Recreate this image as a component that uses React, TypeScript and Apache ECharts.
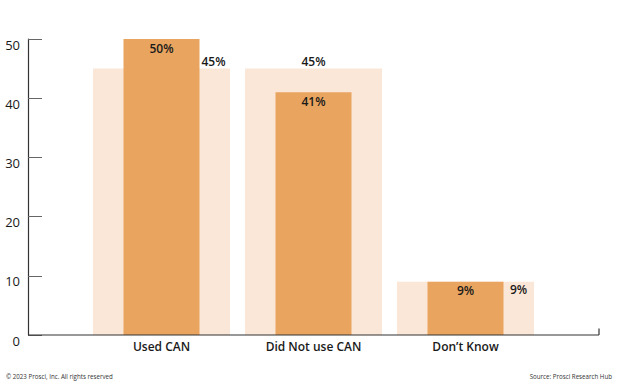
import React, { useEffect, useRef } from "react";
import * as echarts from "echarts";

const categories = ["Used CAN", "Did Not use CAN", "Don\u2019t Know"];
const backgroundValues = [45, 45, 9];
const foregroundValues = [50, 41, 9];
const yTicks = { min: 0, max: 50, interval: 10 };
const footerLeft = "\u00A9 2023 Prosci, Inc. All rights reserved";
const footerRight = "Source: Prosci Research Hub";

const FONT = "'Open Sans', 'Noto Sans', sans-serif";
const ORANGE = "#E9A55F";
const PEACH = "#FAE7D7";

const bgLabelStyles = [
  { position: "top", offset: [52, 0], distance: 1 },
  { position: "top", offset: [0, 0], distance: 1 },
  { position: "insideTop", offset: [53, 0], distance: 2 },
];

export default function App() {
  const ref = useRef<HTMLDivElement>(null);
  useEffect(() => {
    if (!ref.current) return;
    const chart = echarts.init(ref.current, null, { renderer: "svg" });
    const labelBase = {
      show: true,
      fontFamily: FONT,
      fontSize: 12,
      fontWeight: 600,
      color: "#1a1a1a",
      formatter: (p: any) => p.value + "%",
    };
    chart.setOption({
      animation: false,
      grid: { left: 85.5, right: 78.5, top: 39, bottom: 52 },
      xAxis: [
        {
          type: "category",
          data: categories,
          axisLine: { show: false },
          axisTick: { show: false },
          axisLabel: {
            fontFamily: FONT,
            fontSize: 12,
            fontWeight: 600,
            color: "#1a1a1a",
            margin: 5,
          },
        },
        { type: "category", data: categories, show: false },
      ],
      yAxis: {
        type: "value",
        min: yTicks.min,
        max: yTicks.max,
        interval: yTicks.interval,
        offset: 57.5,
        axisLine: { show: true, lineStyle: { color: "#333", width: 1.2 } },
        axisTick: { show: true, inside: true, length: 14, lineStyle: { color: "#666", width: 1 } },
        splitLine: { show: false },
        axisLabel: {
          fontFamily: FONT,
          fontSize: 13,
          color: "#1a1a1a",
          margin: 8,
          verticalAlign: "top",
          lineHeight: 11,
        },
      },
      series: [
        {
          type: "bar",
          xAxisIndex: 0,
          barWidth: 137,
          itemStyle: { color: PEACH },
          data: backgroundValues.map((v, i) => ({
            value: v,
            label: { ...labelBase, ...bgLabelStyles[i] },
          })),
          z: 1,
        },
        {
          type: "bar",
          xAxisIndex: 1,
          barWidth: 76,
          itemStyle: { color: ORANGE },
          label: { ...labelBase, position: "insideTop", distance: 3 },
          data: foregroundValues,
          z: 2,
        },
      ],
      graphic: [
        {
          type: "line",
          shape: { x1: 28, y1: 335, x2: 599, y2: 335 },
          style: { stroke: "#333", lineWidth: 1.2 },
          z: 10,
        },
        {
          type: "line",
          shape: { x1: 599, y1: 328.5, x2: 599, y2: 335 },
          style: { stroke: "#333", lineWidth: 1.2 },
          z: 10,
        },
        {
          type: "text",
          left: 6,
          top: 373,
          style: { text: footerLeft, fontFamily: FONT, fontSize: 6.2, fill: "#333" },
        },
        {
          type: "text",
          right: 8,
          top: 373,
          style: { text: footerRight, fontFamily: FONT, fontSize: 6.2, fill: "#333" },
        },
      ],
    });
    return () => chart.dispose();
  }, []);
  return (
    <div
      ref={ref}
      style={{ position: "fixed", left: 0, top: 0, width: 620, height: 387, background: "#fff" }}
    />
  );
}
